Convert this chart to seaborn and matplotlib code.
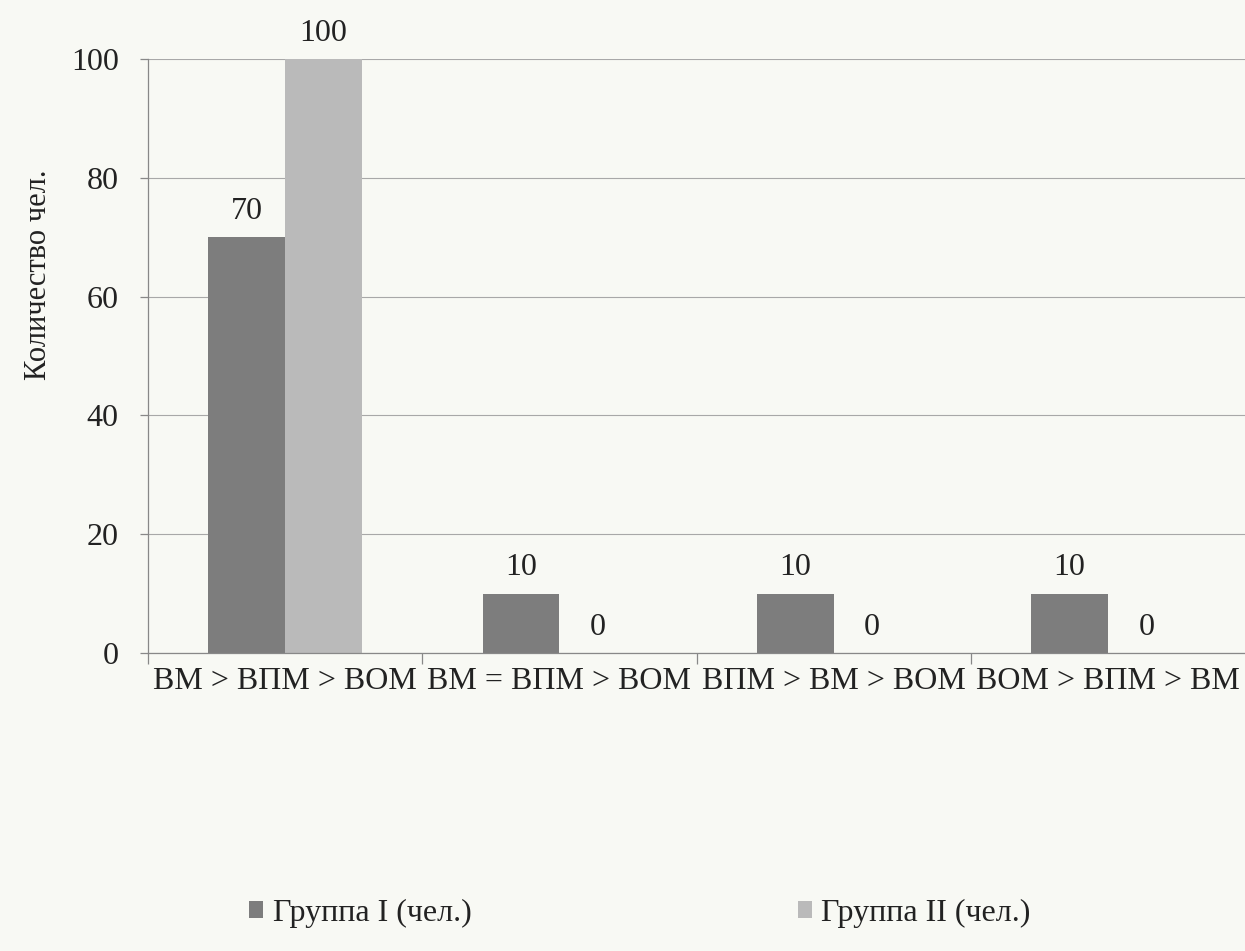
import matplotlib
matplotlib.use("Agg")
import matplotlib.pyplot as plt
import seaborn as sns
import pandas as pd

categories = ["ВМ > ВПМ > ВОМ", "ВМ = ВПМ > ВОМ", "ВПМ > ВМ > ВОМ", "ВОМ > ВПМ > ВМ"]
group1 = [70, 10, 10, 10]
group2 = [100, 0, 0, 0]
series_names = ["Группа I (чел.)", "Группа II (чел.)"]
y_label = "Количество чел."

sns.set_style("white")
plt.rcParams["font.family"] = ["Liberation Serif", "DejaVu Serif"]

bg = "#f8f9f4"
fig = plt.figure(figsize=(12.45, 9.51), dpi=100, facecolor=bg)
ax = fig.add_axes([0.1189, 0.3134, 0.8811, 0.6246])
ax.set_facecolor(bg)

df = pd.DataFrame({
    "cat": categories * 2,
    "val": group1 + group2,
    "grp": [series_names[0]] * 4 + [series_names[1]] * 4,
})
palette = {series_names[0]: "#7d7d7d", series_names[1]: "#bababa"}
sns.barplot(data=df, x="cat", y="val", hue="grp", palette=palette, width=0.56,
            order=categories, hue_order=series_names, ax=ax, saturation=1,
            linewidth=0, legend=True)

for cont in ax.containers:
    ax.bar_label(cont, fmt="%g", padding=8, fontsize=23, color="#222222")

ax.set_xlim(-0.5, 3.5)
ax.set_ylim(0, 100)
ax.set_yticks([0, 20, 40, 60, 80, 100])
ax.yaxis.grid(True, color="#a8a8a8", linewidth=0.8)
ax.set_axisbelow(True)
ax.set_xticks([0, 1, 2, 3])
ax.set_xticklabels(categories, fontsize=23, color="#222222")
ax.tick_params(axis="x", length=0, pad=10)
ax.tick_params(axis="y", length=6, width=0.9, color="#888888", labelsize=23,
               labelcolor="#222222", pad=15, left=True)
ax.set_xticks([-0.5, 0.5, 1.5, 2.5], minor=True)
ax.tick_params(axis="x", which="minor", length=8, width=0.9, color="#888888", bottom=True)

for s in ["top", "right"]:
    ax.spines[s].set_visible(False)
ax.spines["left"].set_color("#888888")
ax.spines["bottom"].set_color("#888888")
ax.spines["left"].set_linewidth(0.9)
ax.spines["bottom"].set_linewidth(0.9)

ax.set_xlabel("")
ax.set_ylabel(y_label, fontsize=22, color="#222222")
ax.yaxis.set_label_coords(-0.087, 0.636)

handles, labels = ax.get_legend_handles_labels()
ax.legend_.remove()
fig.legend(handles, labels, loc="center", bbox_to_anchor=(0.514, 0.04), ncol=2,
           frameon=False, fontsize=23, handlelength=0.45, handleheight=0.45,
           handletextpad=0.3, columnspacing=10.2, labelcolor="#222222")

fig.savefig("out.png", dpi=100, facecolor=bg)
